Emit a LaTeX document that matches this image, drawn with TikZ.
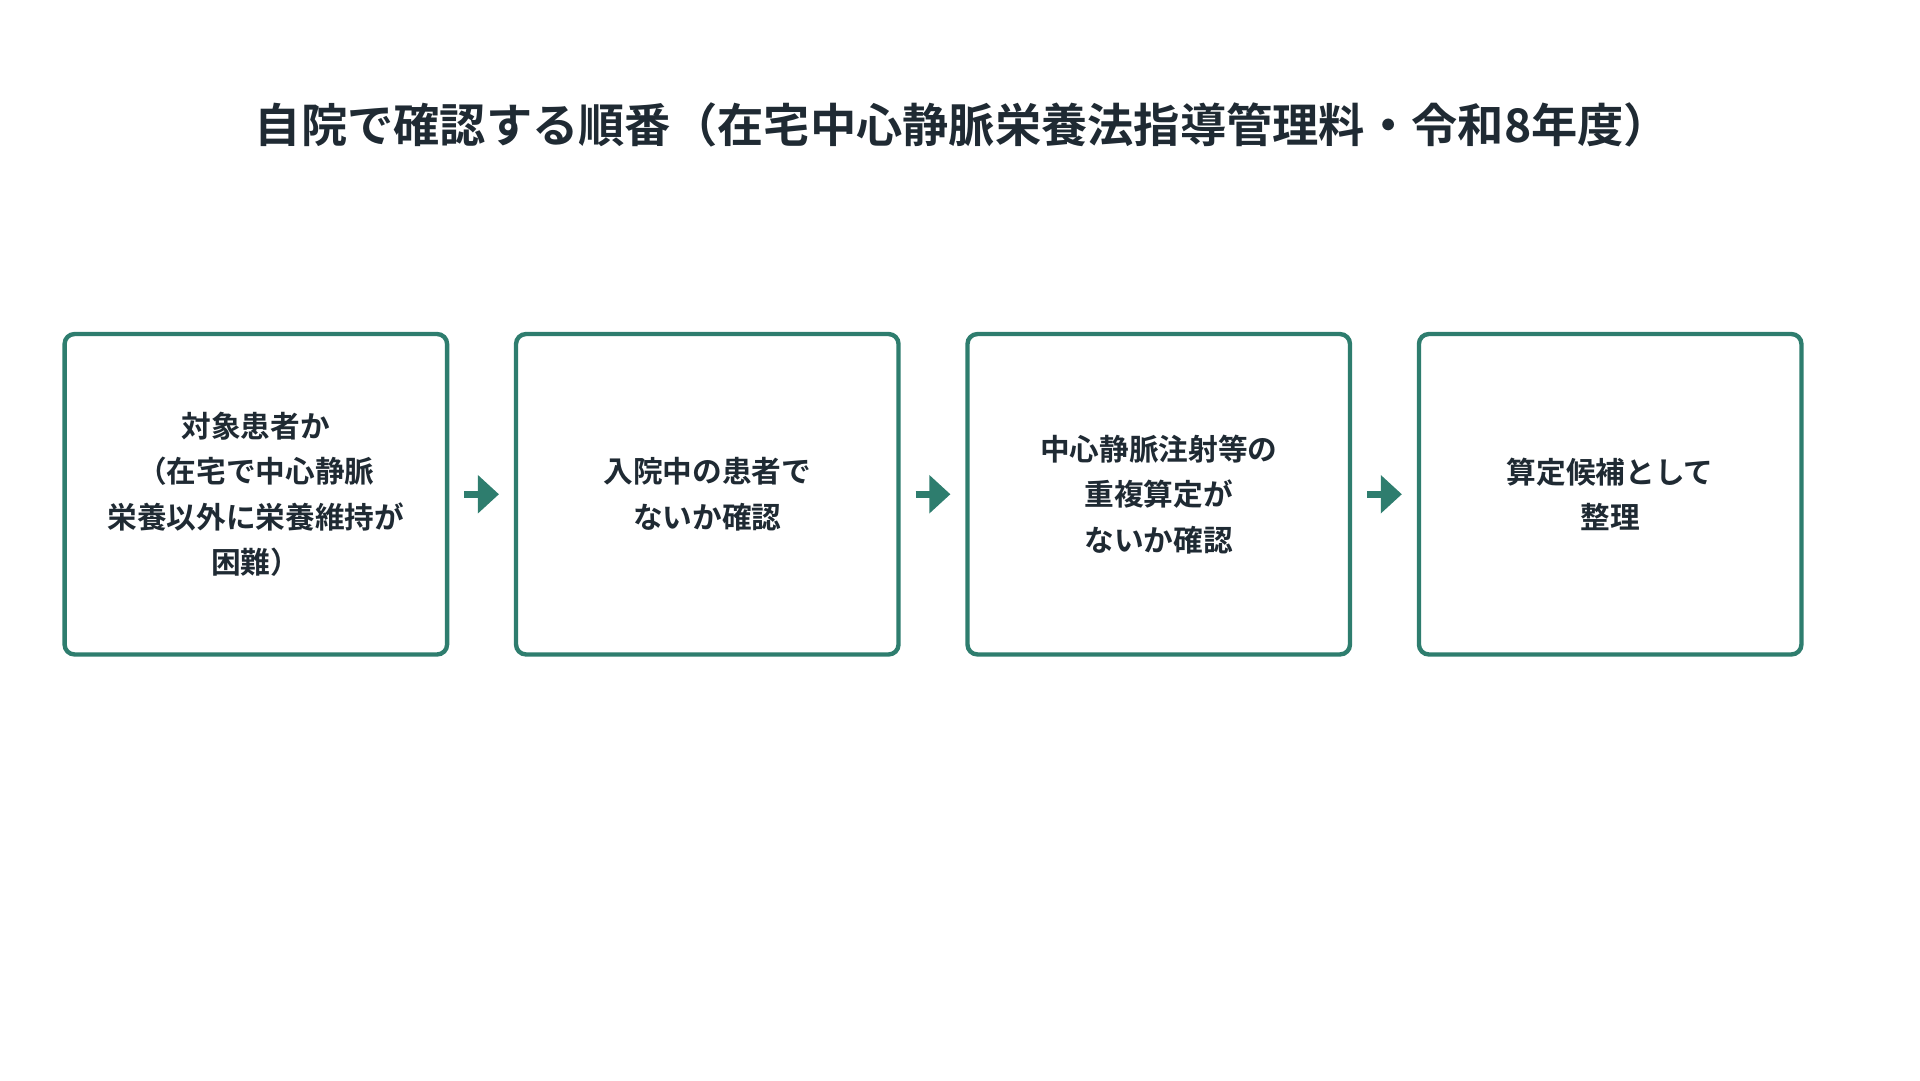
\documentclass[tikz,border=0pt]{standalone}
\usepackage{fontspec}
\newfontfamily\cjk{Noto Sans CJK JP}[BoldFont={Noto Sans CJK JP Bold}]
\usetikzlibrary{arrows.meta,positioning}
\definecolor{stepgreen}{HTML}{2E7D6E}
\definecolor{titleink}{HTML}{1F2A33}

\begin{document}
\begin{tikzpicture}[
    node distance=0.52cm,
    stepnode/.style={draw=stepgreen, line width=1pt, rounded corners=0.08cm, fill=white,
        minimum width=3.08cm, minimum height=2.58cm, align=center,
        font=\cjk\bfseries\fontsize{6.8}{10.4}\selectfont, text=titleink},
    flowarrow/.style={stepgreen, line width=0.06cm, -{Triangle[length=0.17cm,width=0.3cm]},
        shorten <=0.12cm, shorten >=0.12cm}
]
\useasboundingbox (0,0) rectangle (15.46,8.70);

% Title
\node[font=\cjk\bfseries\fontsize{10.6}{12}\selectfont, text=titleink] (title) at (7.75,7.69)
    {自院で確認する順番（在宅中心静脈栄養法指導管理料・令和8年度）};

% Steps
\node[stepnode] (target) at (2.06,4.72) {対象患者か\\（在宅で中心静脈\\栄養以外に栄養維持が\\困難）};
\node[stepnode, right=of target] (inpatient) {入院中の患者で\\ないか確認};
\node[stepnode, right=of inpatient] (duplicate) {中心静脈注射等の\\重複算定が\\ないか確認};
\node[stepnode, right=of duplicate] (candidate) {算定候補として\\整理};

% Arrows
\draw[flowarrow] (target) -- (inpatient);
\draw[flowarrow] (inpatient) -- (duplicate);
\draw[flowarrow] (duplicate) -- (candidate);

\end{tikzpicture}
\end{document}
